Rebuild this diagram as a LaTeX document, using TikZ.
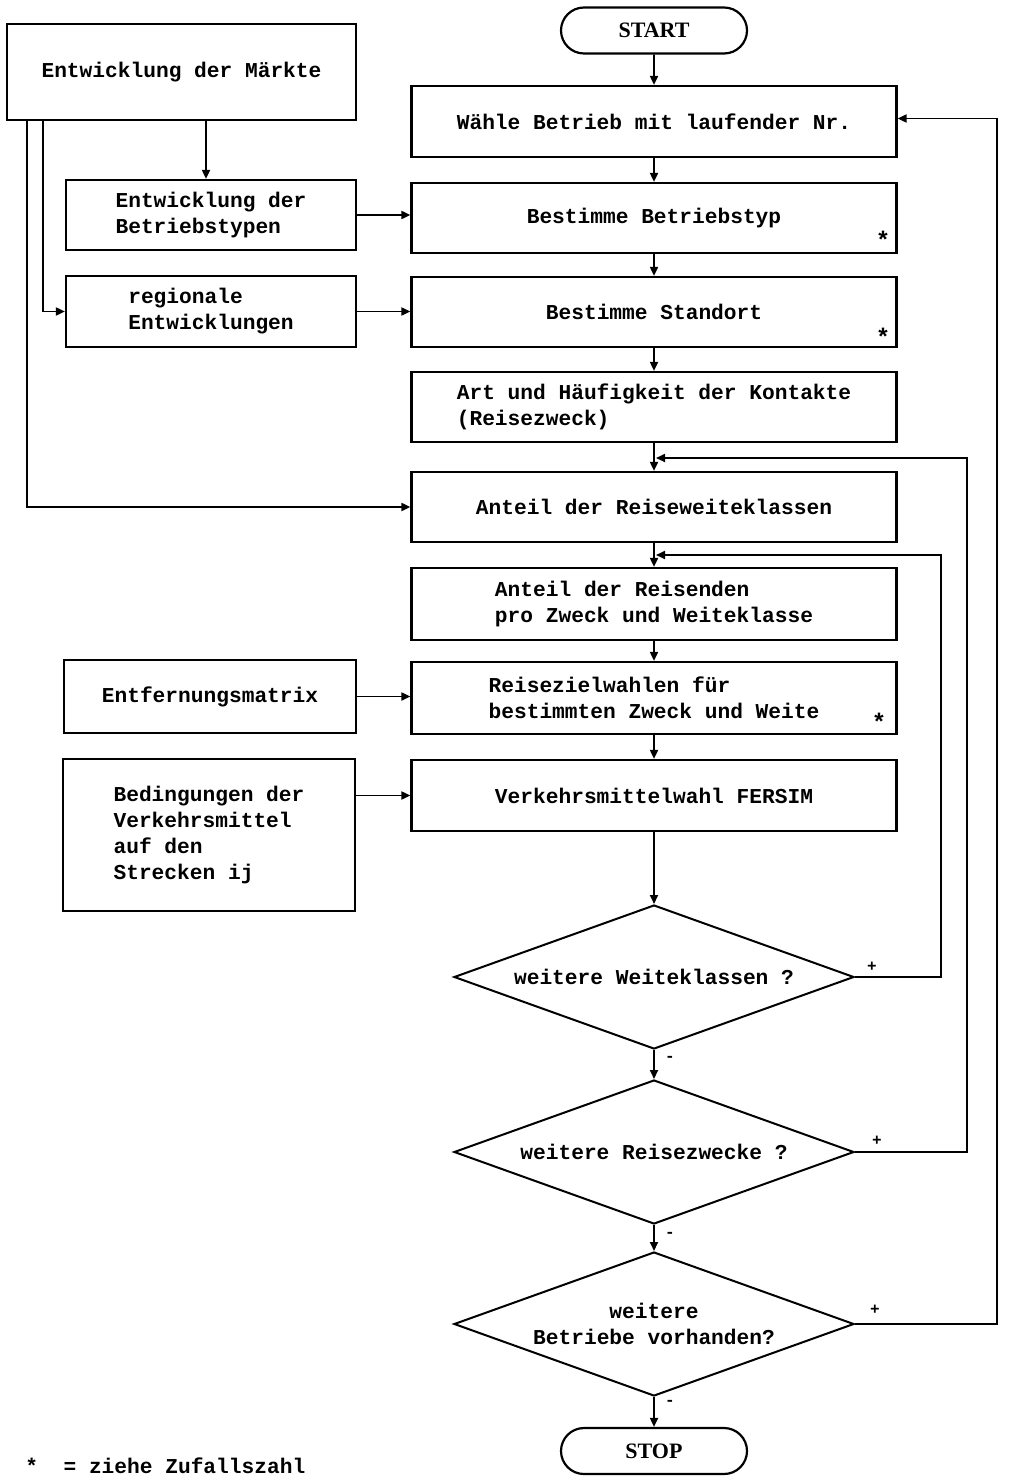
\documentclass[tikz,border=0pt]{standalone}
\usepackage{fontspec}
\setmainfont{Liberation Serif}
\newfontfamily\twfont{Liberation Mono}
\usetikzlibrary{shapes.geometric,shapes.misc,arrows.meta,calc}
\begin{document}
\begin{tikzpicture}[x=0.5pt,y=-0.5pt,
  tw/.style={font=\twfont\bfseries\fontsize{10.6}{13}\selectfont},
  box/.style={draw, line width=1.1pt, rectangle, inner sep=0pt, tw, align=left, minimum width=242.5pt, minimum height=35pt},
  lbox/.style={box, minimum width=145pt},
  term/.style={draw, line width=1.1pt, rounded rectangle, minimum width=93pt, minimum height=23pt, inner sep=0pt, font=\bfseries\fontsize{11}{12}\selectfont},
  dec/.style={draw, diamond, line width=1pt, aspect=2.76, inner sep=0pt, minimum width=200pt, minimum height=72pt, tw, align=center},
  arr/.style={line width=0.9pt, -{Triangle[length=4.5pt,width=4pt]}},
  ast/.style={font=\twfont\bfseries\fontsize{12}{13}\selectfont, inner sep=0pt},
  sgn/.style={font=\twfont\bfseries\fontsize{8}{8}\selectfont, inner sep=0pt}]
\useasboundingbox (0,0) rectangle (1008,1476);
\fill[white] (0,0) rectangle (1008,1476);

% right column
\node[term] (start) at (654,30.5) {START};
\node[box, minimum height=35.5pt] (wahle) at (654,121.5) {Wähle Betrieb mit laufender Nr.};
\node[box] (bbt) at (654,218) {Bestimme Betriebstyp};
\node[box] (bst) at (654,312) {Bestimme Standort};
\node[box] (art) at (654,407) {Art und Häufigkeit der Kontakte\\(Reisezweck)};
\node[box] (ant1) at (654,507) {Anteil der Reiseweiteklassen};
\node[box, minimum height=36pt] (ant2) at (654,604) {Anteil der Reisenden\\pro Zweck und Weiteklasse};
\node[box, minimum height=36pt] (rzw) at (654,698) {Reisezielwahlen für\\bestimmten Zweck und Weite};
\node[box, minimum height=35.5pt] (vmw) at (654,795.5) {Verkehrsmittelwahl FERSIM};
\node[dec] (d1) at (654,977) {weitere Weiteklassen ?};
\node[dec] (d2) at (654,1152) {weitere Reisezwecke ?};
\node[dec] (d3) at (654,1324) {weitere\\Betriebe vorhanden?};
\node[term] (stop) at (654,1451) {STOP};

% asterisks
\node[ast] (a1) at (883,240) {*};
\node[ast] (a2) at (883,337) {*};
\node[ast] (a3) at (879,722) {*};

% left column
\node[box, minimum width=174.5pt, minimum height=48pt] (maerkte) at (181.5,72) {Entwicklung der Märkte};
\node[lbox] (btyp) at (211,215) {Entwicklung der\\Betriebstypen};
\node[lbox, minimum height=35.5pt] (regio) at (211,311.5) {regionale\\Entwicklungen};
\node[lbox, minimum width=146pt, minimum height=36.5pt] (entf) at (210,696.5) {Entfernungsmatrix};
\node[lbox, minimum width=146pt, minimum height=76pt] (bed) at (209,835) {Bedingungen der\\Verkehrsmittel\\auf den\\Strecken ij};

% legend
\node[tw, anchor=west, inner sep=0pt] (legend) at (25,1466) {*\ \ = ziehe Zufallszahl};

% main flow
\foreach \a/\b in {start/wahle, wahle/bbt, bbt/bst, bst/art, art/ant1, ant1/ant2, ant2/rzw, rzw/vmw, vmw/d1, d1/d2, d2/d3, d3/stop}
  \draw[arr] (\a) -- (\b);

% signs
\node[sgn] (m1) at (670,1059) {-};
\node[sgn] (m2) at (670,1235) {-};
\node[sgn] (m3) at (670,1403) {-};
\node[sgn] (p1) at (872,967) {+};
\node[sgn] (p2) at (877,1141) {+};
\node[sgn] (p3) at (875,1310) {+};

% feedback loops
\coordinate (j1) at (656,555);
\coordinate (r1) at (941,555);
\coordinate (j2) at (656,458);
\coordinate (r2) at (967,458);
\coordinate (r3) at ([xshift=49.75pt,yshift=1.5pt]wahle.east);
\coordinate (w3) at ([yshift=1.5pt]wahle.east);
\draw[arr] (d1.east) -| (r1) -- (j1);
\draw[arr] (d2.east) -| (r2) -- (j2);
\draw[arr] (d3.east) -| (r3) -- (w3);

% left inputs
\draw[arr] ([xshift=-2.5pt]btyp.north |- maerkte.south) -- ([xshift=-2.5pt]btyp.north);
\draw[arr] ([xshift=18.5pt]maerkte.south west) |- (regio.west);
\draw[arr] ([xshift=10.5pt]maerkte.south west) |- (ant1.west);
\draw[arr] (btyp.east) -- (btyp.east -| bbt.west);
\draw[arr] (regio.east) -- (regio.east -| bst.west);
\draw[arr] (entf.east) -- (entf.east -| rzw.west);
\draw[arr] (vmw.west -| bed.east) -- (vmw.west);
\end{tikzpicture}
\end{document}
